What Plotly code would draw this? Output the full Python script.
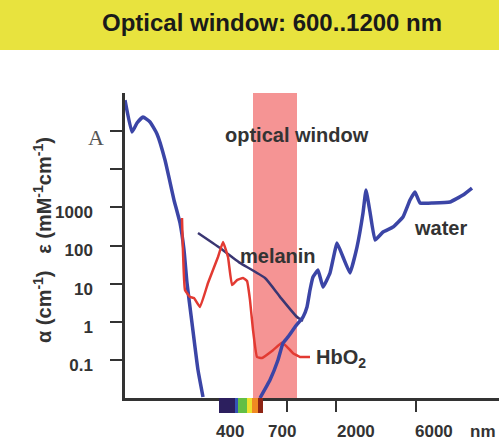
import plotly.graph_objects as go

# ---------------- data (schematic wavelength positions, absorption values) ----------------
uv_pos = [0, 7, 12, 18, 25, 32, 40, 45, 49, 55, 59, 62, 67, 73, 78]
uv_abs = [650000, 95000, 163000, 234000, 173000, 84000, 17500, 4600, 1560, 390, 76, 10.4, 0.93, 0.054, 0.0106]

hbo2_pos = [57, 60, 65, 69, 75, 83, 93, 98, 103, 107, 112, 118, 122, 125, 128, 132, 137, 148, 157, 162, 168, 175, 185]
hbo2_abs = [526, 6.8, 4.46, 4.2, 2.44, 10.4, 50, 124, 50, 9.2, 12.4, 14, 11.7, 3.7, 0.61, 0.119, 0.112, 0.18, 0.28, 0.22, 0.15, 0.119, 0.119]

melanin_pos = [73, 95, 107, 115, 140, 155, 172, 178]
melanin_abs = [213, 86, 50, 35, 14, 4.5, 1.33, 1.05]

water_pos = [135, 145, 153, 158, 163, 170, 178, 182, 185, 188, 193, 198, 205, 212, 218, 225, 232, 238, 241, 245,
             250, 258, 268, 278, 285, 290, 295, 308, 325, 338, 347]
water_abs = [0.01, 0.0296, 0.099, 0.277, 0.40, 0.73, 1.33, 2.44, 6.8, 14.9, 22.7, 8.1, 19, 116, 50, 19, 91, 711, 2860, 757,
             139, 226, 305, 560, 1560, 2530, 1300, 1300, 1380, 2110, 3220]

y_tick_vals = [0.1, 1, 10, 100, 1000, 10000, 100000]
y_tick_text = ["0.1", "1", "10", "100", "1000", "", ""]

x_tick_pos = [162, 211, 291]
x_label_pos = [105, 157, 231, 309, 358]
x_label_text = ["400", "700", "2000", "6000", "nm"]

window_start, window_end = 128, 172
rainbow_edges = [94, 110, 113, 122, 127, 133, 138]
rainbow_colors = ["#2c1f5e", "#3553b5", "#62bf45", "#ece22e", "#f08a22", "#8e2414"]

# ---------------- layout geometry ----------------
W, H = 499, 441
ML, MR, MT, MB = 125, 0, 93, 43
PW, PH = W - ML - MR, H - MT - MB


def py2paper(py):
    return (H - MB - py) / PH


def px2paper(px):
    return (px - ML) / PW


BLUE = "#3b45a6"
RED = "#e23a32"
NAVY = "#3a3672"
FONT = "Liberation Sans, Arial, sans-serif"

fig = go.Figure()
fig.add_trace(go.Scatter(x=uv_pos, y=uv_abs, mode="lines",
                         line=dict(color=BLUE, width=3.5, shape="spline", smoothing=0.4), hoverinfo="skip"))
fig.add_trace(go.Scatter(x=melanin_pos, y=melanin_abs, mode="lines",
                         line=dict(color=NAVY, width=2.5, shape="spline", smoothing=0.5), hoverinfo="skip"))
fig.add_trace(go.Scatter(x=hbo2_pos, y=hbo2_abs, mode="lines",
                         line=dict(color=RED, width=2.5, shape="spline", smoothing=0.3), hoverinfo="skip"))
fig.add_trace(go.Scatter(x=water_pos, y=water_abs, mode="lines",
                         line=dict(color=BLUE, width=3.5, shape="spline", smoothing=0.3), hoverinfo="skip"))

shapes = [
    # title band
    dict(type="rect", xref="paper", yref="paper", x0=px2paper(0), x1=px2paper(W), y0=py2paper(50), y1=py2paper(0),
         fillcolor="#e8e33e", line=dict(width=0), layer="below"),
    # optical window
    dict(type="rect", xref="x", yref="paper", x0=window_start, x1=window_end, y0=0, y1=1,
         fillcolor="#f59494", line=dict(width=0), layer="below"),
]
for i, c in enumerate(rainbow_colors):
    shapes.append(dict(type="rect", xref="x", yref="paper", x0=rainbow_edges[i], x1=rainbow_edges[i + 1],
                       y0=py2paper(413), y1=0, fillcolor=c, line=dict(width=0), layer="above"))

annotations = [
    dict(text="<b>Optical window: 600..1200 nm</b>", x=px2paper(272), y=py2paper(22), xref="paper", yref="paper",
         showarrow=False, font=dict(family=FONT, size=24, color="#1a1a1a"), xanchor="center", yanchor="middle"),
    dict(text="<b>optical window</b>", x=px2paper(297), y=py2paper(135), xref="paper", yref="paper",
         showarrow=False, font=dict(family=FONT, size=20, color="#333333"), xanchor="center", yanchor="middle"),
    dict(text="<b>melanin</b>", x=px2paper(278), y=py2paper(256), xref="paper", yref="paper",
         showarrow=False, font=dict(family=FONT, size=20, color="#333333"), xanchor="center", yanchor="middle"),
    dict(text="<b>water</b>", x=px2paper(440), y=py2paper(228), xref="paper", yref="paper",
         showarrow=False, font=dict(family=FONT, size=20, color="#333333"), xanchor="center", yanchor="middle"),
    dict(text="<b>HbO<sub>2</sub></b>", x=px2paper(314), y=py2paper(358), xref="paper", yref="paper",
         showarrow=False, font=dict(family=FONT, size=20, color="#333333"), xanchor="left", yanchor="middle"),
    dict(text="A", x=px2paper(106), y=py2paper(137), xref="paper", yref="paper",
         showarrow=False, font=dict(family="Liberation Serif, Times New Roman, serif", size=22, color="#555555"),
         xanchor="right", yanchor="middle"),
    dict(text="<b>α (cm<sup>-1</sup>)   ε (mM<sup>-1</sup>cm<sup>-1</sup>)</b>", x=px2paper(42), y=py2paper(240),
         xref="paper", yref="paper", showarrow=False, textangle=-90,
         font=dict(family=FONT, size=20, color="#333333"), xanchor="center", yanchor="middle"),
]
for xp, t in zip(x_label_pos, x_label_text):
    annotations.append(dict(text="<b>%s</b>" % t, x=xp, y=py2paper(431), xref="x", yref="paper", showarrow=False,
                            font=dict(family=FONT, size=17, color="#333333"), xanchor="center", yanchor="middle"))

fig.update_layout(
    width=W, height=H, margin=dict(l=ML, r=MR, t=MT, b=MB, pad=0),
    paper_bgcolor="white", plot_bgcolor="white", showlegend=False,
    shapes=shapes, annotations=annotations,
    xaxis=dict(range=[0, PW], showgrid=False, zeroline=False, showline=True, linecolor="#333333", linewidth=2.5,
               ticks="outside", ticklen=11, tickwidth=2, tickcolor="#333333", tickvals=x_tick_pos,
               showticklabels=False, fixedrange=True),
    yaxis=dict(type="log", range=[-2, 6], showgrid=False, zeroline=False, showline=True, linecolor="#333333",
               linewidth=2.5, ticks="outside", ticklen=12, tickwidth=2, tickcolor="#333333",
               tickvals=y_tick_vals, ticktext=["<b>%s</b>" % t if t else "" for t in y_tick_text],
               tickfont=dict(family=FONT, size=17, color="#333333"), ticklabelstandoff=14, ticklabelshift=5,
               fixedrange=True),
)

fig.write_html("out.html")
